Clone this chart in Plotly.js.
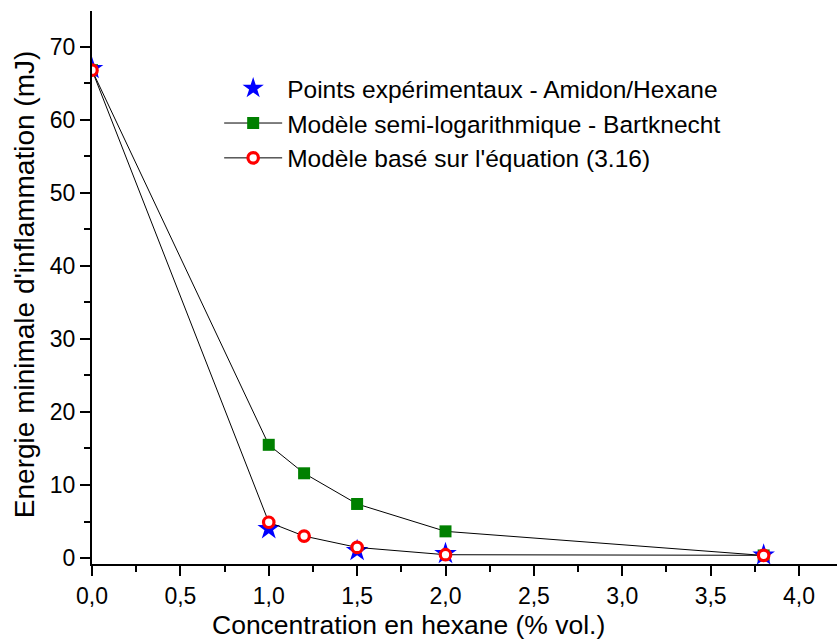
<!DOCTYPE html>
<html>
<head>
<meta charset="utf-8">
<script src="https://cdn.plot.ly/plotly-3.0.1.min.js"></script>
<style>html,body{margin:0;padding:0;background:#fff;}#chart{width:837px;height:641px;}</style>
</head>
<body>
<div id="chart"></div>
<script>
var xModel = [0, 1.0, 1.2, 1.5, 2.0, 3.8];
var bartknecht = [66.8, 15.5, 11.6, 7.4, 3.65, 0.35];
var equation = [66.8, 4.9, 3.0, 1.45, 0.45, 0.37];
var xExp = [0, 1.0, 1.5, 2.0, 3.8];
var experimental = [67.0, 4.0, 1.0, 0.6, 0.4];
var names = ["Points expérimentaux - Amidon/Hexane", "Modèle semi-logarithmique - Bartknecht", "Modèle basé sur l'équation (3.16)"];
var xTitle = "Concentration en hexane (% vol.)";
var yTitle = "Energie minimale d'inflammation (mJ)";

var font = "Arial, 'Liberation Sans', sans-serif";

var traces = [
  {x: xModel, y: bartknecht, name: names[1], mode: "lines+markers", legendrank: 2,
   line: {color: "#000", width: 1},
   marker: {symbol: "square", size: 12, color: "#008000"}},
  {x: xExp, y: experimental, name: names[0], mode: "markers", legendrank: 1,
   marker: {symbol: "star", size: 17, color: "#0000ff"}},
  {x: xModel, y: equation, name: names[2], mode: "lines+markers", legendrank: 3,
   line: {color: "#000", width: 1},
   marker: {symbol: "circle", size: 10.5, color: "#fff", line: {color: "#ff0000", width: 3.2}}}
];

var layout = {
  width: 837, height: 641,
  margin: {l: 92, r: 0, t: 11, b: 77},
  paper_bgcolor: "#fff", plot_bgcolor: "#fff",
  separators: ", ",
  font: {family: font, color: "#000", size: 23},
  showlegend: true,
  legend: {x: 0.1707, y: 0.901, xanchor: "left", yanchor: "top", bgcolor: "rgba(0,0,0,0)",
           font: {family: font, size: 24.5, color: "#000"}, itemwidth: 58, tracegroupgap: 0},
  xaxis: {
    range: [0, 4.215], showgrid: false, zeroline: false,
    showline: true, linecolor: "#000", linewidth: 2,
    ticks: "outside", ticklen: 10, tickwidth: 2, tickcolor: "#000",
    dtick: 0.5, tick0: 0, tickformat: ".1f",
    minor: {ticks: "outside", ticklen: 6, tickwidth: 2, tickcolor: "#000", dtick: 0.25},
    tickfont: {family: font, size: 23}
  },
  yaxis: {
    range: [-0.82, 74.9], showgrid: false, zeroline: false,
    showline: true, linecolor: "#000", linewidth: 2,
    ticks: "outside", ticklen: 10, tickwidth: 2, tickcolor: "#000",
    dtick: 10, tick0: 0,
    minor: {ticks: "outside", ticklen: 6, tickwidth: 2, tickcolor: "#000", dtick: 5},
    tickfont: {family: font, size: 23}
  },
  annotations: [
    {text: xTitle, xref: "paper", yref: "paper", x: 0.4255, y: -0.110, xanchor: "center", yanchor: "middle",
     showarrow: false, font: {family: font, size: 26.5, color: "#000"}},
    {text: yTitle, xref: "paper", yref: "paper", x: -0.0913, y: 0.506, xanchor: "center", yanchor: "middle",
     textangle: -90, showarrow: false, font: {family: font, size: 28, color: "#000"}}
  ]
};

Plotly.newPlot("chart", traces, layout, {displayModeBar: false, staticPlot: true});
</script>
</body>
</html>
